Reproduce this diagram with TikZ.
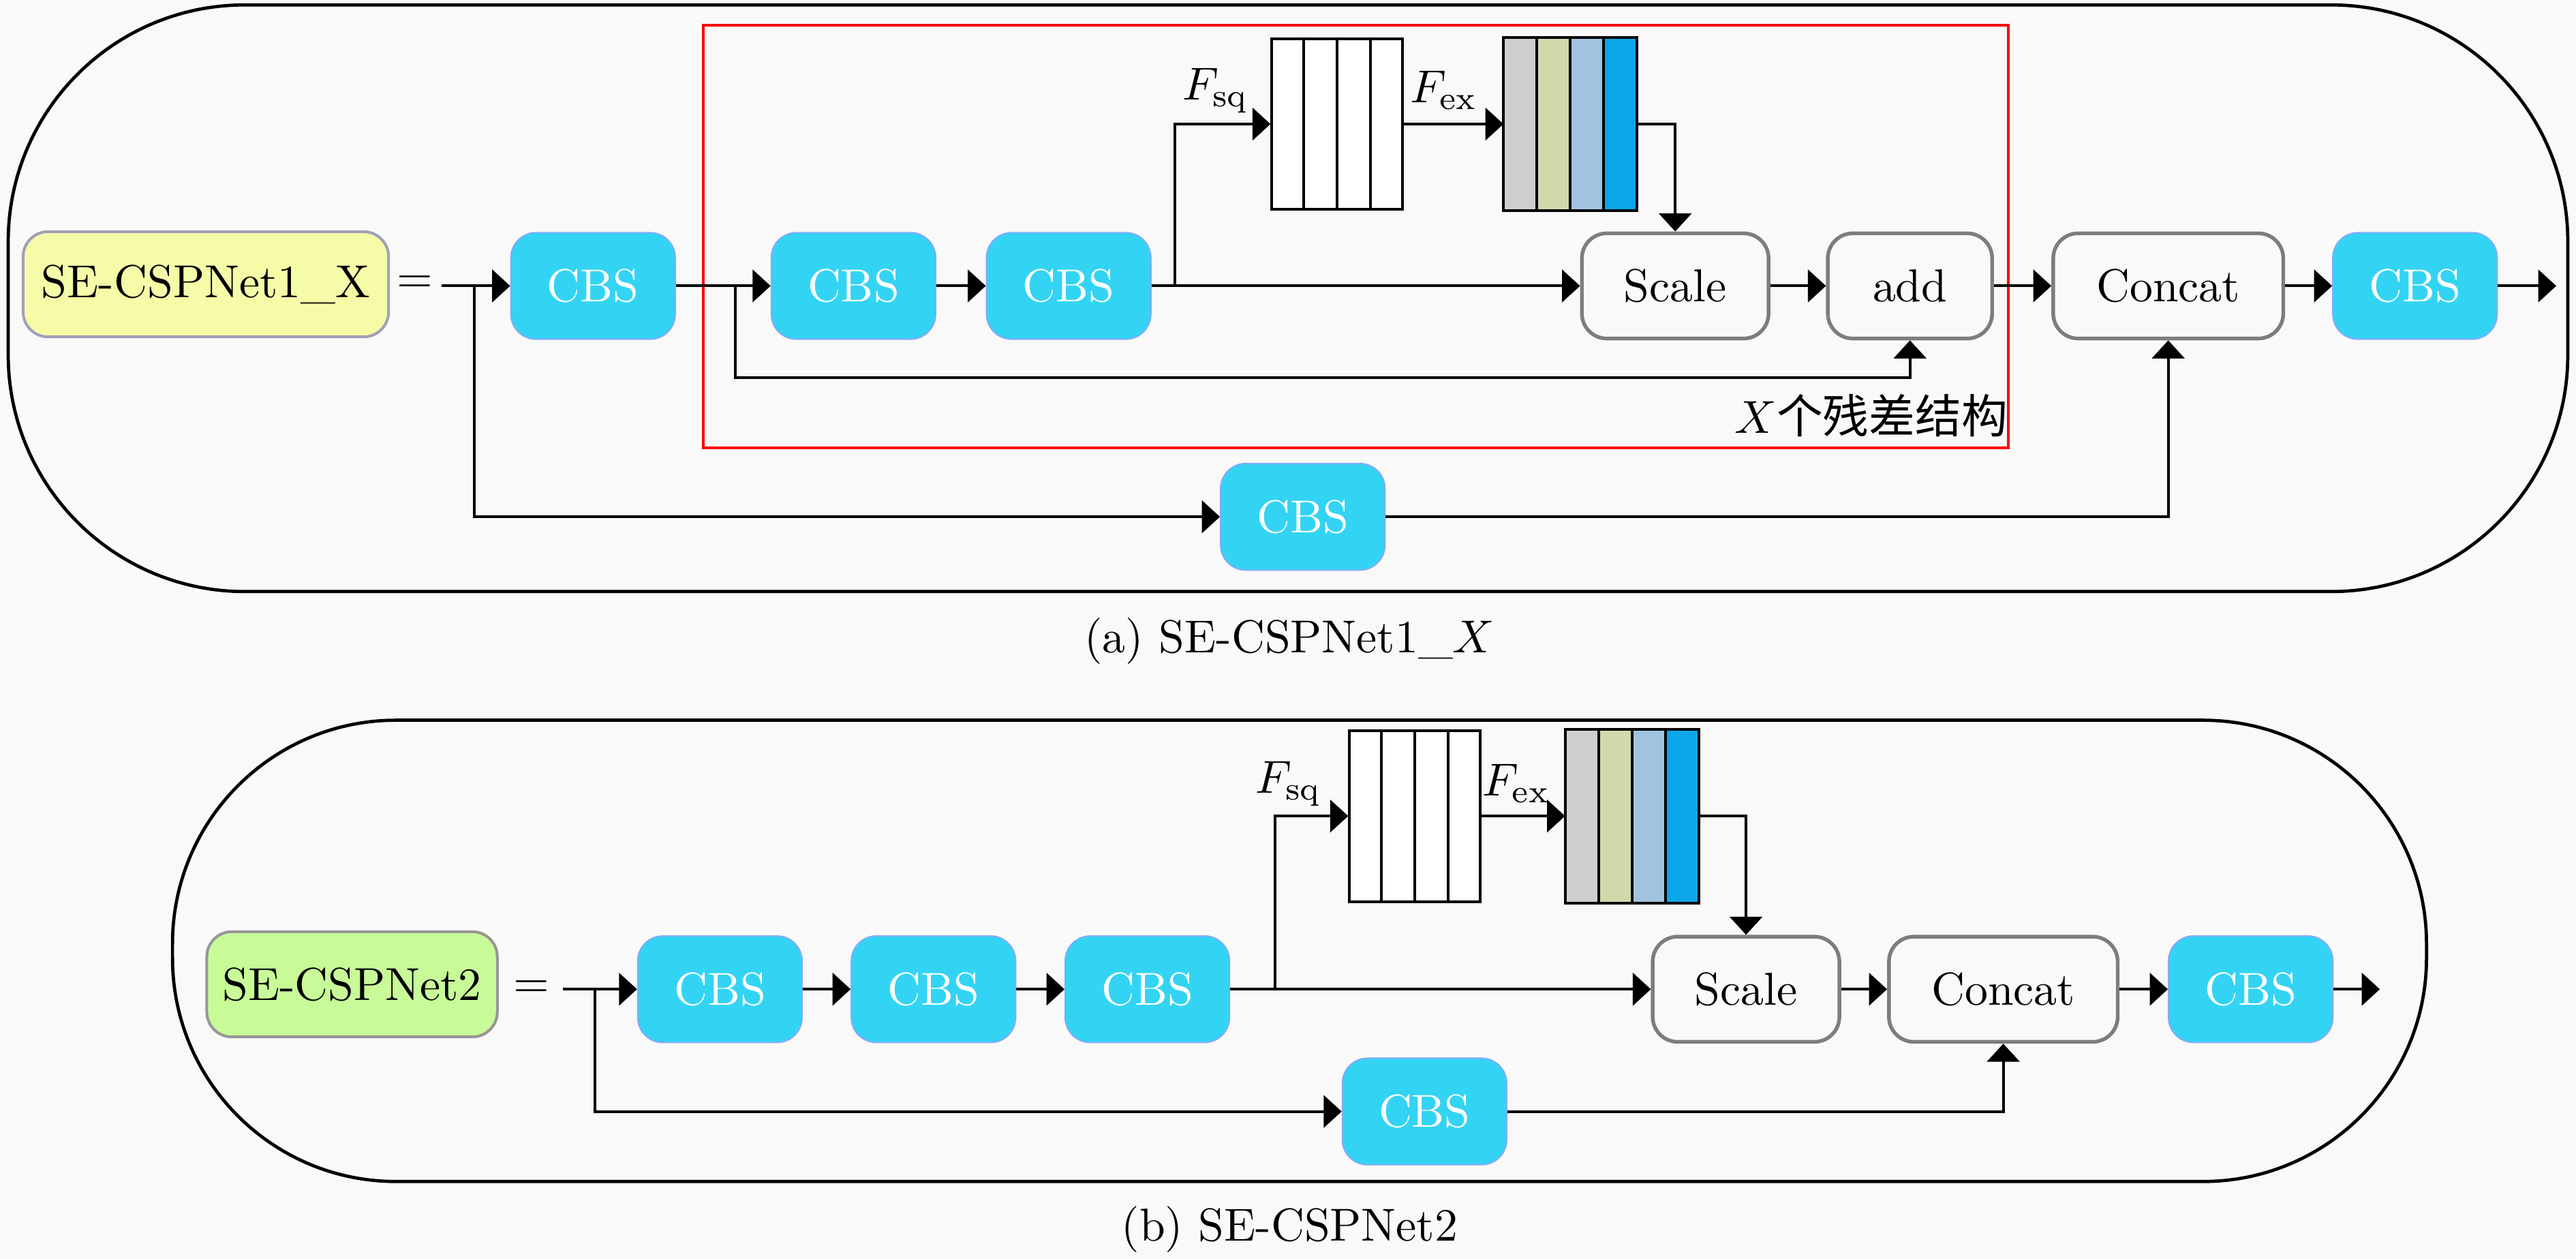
\documentclass[tikz,border=0pt]{standalone}
\usepackage{fontspec}
\newfontfamily\cjk{Noto Sans CJK SC}
\usetikzlibrary{arrows.meta,calc}
\definecolor{bgc}{RGB}{249,249,249}
\definecolor{cbsfill}{RGB}{51,212,243}
\definecolor{cbsline}{RGB}{130,170,250}
\definecolor{yelfill}{RGB}{246,251,168}
\definecolor{yelline}{RGB}{160,160,185}
\definecolor{grnfill}{RGB}{200,250,152}
\definecolor{grnline}{RGB}{150,150,150}
\definecolor{opline}{RGB}{125,125,125}
\definecolor{colA}{RGB}{206,206,206}
\definecolor{colB}{RGB}{209,217,171}
\definecolor{colC}{RGB}{160,196,224}
\definecolor{colD}{RGB}{12,166,234}
\tikzset{
  arr/.style={-{Triangle[length=3.9pt,width=7pt]}, line width=0.6pt},
  ln/.style={line width=0.6pt},
  cbs/.style={rounded corners=0.19cm, fill=cbsfill, draw=cbsline, line width=0.3pt,
    text=white, minimum width=1.25cm, minimum height=0.81cm, inner sep=0pt},
  opbox/.style={rounded corners=0.19cm, fill=bgc, draw=opline, line width=0.8pt,
    minimum height=0.8cm, inner sep=0pt},
  namebox/.style={rounded corners=0.19cm, line width=0.6pt, inner sep=0pt, minimum height=0.8cm},
  fbox/.style={draw, line width=0.6pt, fill=white, minimum width=0.995cm, minimum height=1.3cm, inner sep=0pt},
  plain/.style={inner sep=0pt}
}
\begin{document}
\begin{tikzpicture}[x=0.0125cm,y=-0.0125cm]
\fill[bgc] (0,0) rectangle (1568,766);
\useasboundingbox (0,0) rectangle (1568,766);

% ================= (a) =================
\draw[line width=0.7pt, rounded corners=1.8cm] (5,3) rectangle (1563,360);
\draw[red, line width=0.6pt] (428,15.4) rectangle (1222.4,272.5);

\node[namebox, fill=yelfill, draw=yelline, minimum width=2.78cm] (n1) at (125.3,173) {SE-CSPNet1\_X};
\node[plain] (eq1) at (252.5,173) {=};
\coordinate (s1) at (269,174);
\coordinate (j1) at (288.8,174);
\node[cbs] (c1) at (361,174) {CBS};
\coordinate (j2) at (447.6,174);
\node[cbs] (c2) at (519.5,174) {CBS};
\node[cbs] (c3) at (650.5,174) {CBS};
\coordinate (j3) at (715,174);
\node[fbox] (b1) at (814,75.5) {};
\node[fbox] (b2) at (955.8,75.5) {};
\node[opbox, minimum width=1.42cm] (sc1) at (1019.7,174) {Scale};
\node[opbox, minimum width=1.25cm] (ad1) at (1162.6,174) {add};
\node[opbox, minimum width=1.75cm] (cc1) at (1319.8,174) {Concat};
\node[cbs] (c4) at (1470,174) {CBS};
\coordinate (o1) at (1556,174);
\node[cbs] (c5) at (793,314.5) {CBS};
\coordinate (r1) at (447.6,230);
\coordinate (r2) at (1162.6,230);

\node[plain] (fsq1) at (740,55) {$F_{\mathrm{sq}}$};
\node[plain] (fex1) at (879,55) {$F_{\mathrm{ex}}$};
\node[plain] (lbl) at (1139,253) {$X${\cjk 个残差结构}};
\node[plain] (cap1) at (785,390) {(a) SE-CSPNet1\_$X$};

% box contents (a)
\foreach \i in {1,2,3}
  \draw[line width=0.6pt] ($(b1.north west)!\i/4!(b1.north east)$) -- ($(b1.south west)!\i/4!(b1.south east)$);
\foreach \c [count=\i from 0] in {colA,colB,colC,colD}
  \fill[\c] ($(b2.north west)!\i/4!(b2.north east)$) rectangle ($(b2.south west)!{(\i+1)/4}!(b2.south east)$);
\foreach \i in {1,2,3}
  \draw[line width=0.6pt] ($(b2.north west)!\i/4!(b2.north east)$) -- ($(b2.south west)!\i/4!(b2.south east)$);
\draw[line width=0.6pt] (b2.north west) rectangle (b2.south east);

% connectors (a)
\draw[ln] (s1) -- (j1);
\draw[arr] (j1) -- (c1);
\draw[arr] (j1) |- (c5);
\draw[arr] (c1) -- (c2);
\draw[arr] (j2) -- (r1) -- (r2) -- (ad1.south);
\draw[arr] (c2) -- (c3);
\draw[arr] (c3) -- (sc1);
\draw[arr] (j3) |- (b1.west);
\draw[arr] (b1) -- (b2);
\draw[arr] (b2.east) -| (sc1.north);
\draw[arr] (sc1) -- (ad1);
\draw[arr] (ad1) -- (cc1);
\draw[arr] (cc1) -- (c4);
\draw[arr] (c4) -- (o1);
\draw[arr] (c5) -| (cc1.south);

% ================= (b) =================
\draw[line width=0.7pt, rounded corners=1.7cm] (105,438.3) rectangle (1477,719);

\node[namebox, fill=grnfill, draw=grnline, minimum width=2.21cm] (n2) at (214.3,599) {SE-CSPNet2};
\node[plain] (eq2) at (323.5,602) {=};
\coordinate (s2) at (342.7,602);
\coordinate (j4) at (362,602);
\node[cbs] (d1) at (438.2,602) {CBS};
\node[cbs] (d2) at (568.2,602) {CBS};
\node[cbs] (d3) at (698.4,602) {CBS};
\coordinate (j5) at (776,602);
\node[fbox] (e1) at (861.3,496.6) {};
\node[fbox] (e2) at (993.3,496.6) {};
\node[opbox, minimum width=1.42cm] (sc2) at (1062.8,602) {Scale};
\node[opbox, minimum width=1.74cm] (cc2) at (1219.4,602) {Concat};
\node[cbs] (d4) at (1370,602) {CBS};
\coordinate (o2) at (1448.6,602);
\node[cbs] (d5) at (867.1,676.4) {CBS};

\node[plain] (fsq2) at (784.5,477) {$F_{\mathrm{sq}}$};
\node[plain] (fex2) at (923,477) {$F_{\mathrm{ex}}$};
\node[plain] (cap2) at (785,748) {(b) SE-CSPNet2};

% box contents (b)
\foreach \i in {1,2,3}
  \draw[line width=0.6pt] ($(e1.north west)!\i/4!(e1.north east)$) -- ($(e1.south west)!\i/4!(e1.south east)$);
\foreach \c [count=\i from 0] in {colA,colB,colC,colD}
  \fill[\c] ($(e2.north west)!\i/4!(e2.north east)$) rectangle ($(e2.south west)!{(\i+1)/4}!(e2.south east)$);
\foreach \i in {1,2,3}
  \draw[line width=0.6pt] ($(e2.north west)!\i/4!(e2.north east)$) -- ($(e2.south west)!\i/4!(e2.south east)$);
\draw[line width=0.6pt] (e2.north west) rectangle (e2.south east);

% connectors (b)
\draw[ln] (s2) -- (j4);
\draw[arr] (j4) -- (d1);
\draw[arr] (j4) |- (d5);
\draw[arr] (d1) -- (d2);
\draw[arr] (d2) -- (d3);
\draw[arr] (d3) -- (sc2);
\draw[arr] (j5) |- (e1.west);
\draw[arr] (e1) -- (e2);
\draw[arr] (e2.east) -| (sc2.north);
\draw[arr] (sc2) -- (cc2);
\draw[arr] (cc2) -- (d4);
\draw[arr] (d4) -- (o2);
\draw[arr] (d5) -| (cc2.south);
\end{tikzpicture}
\end{document}
